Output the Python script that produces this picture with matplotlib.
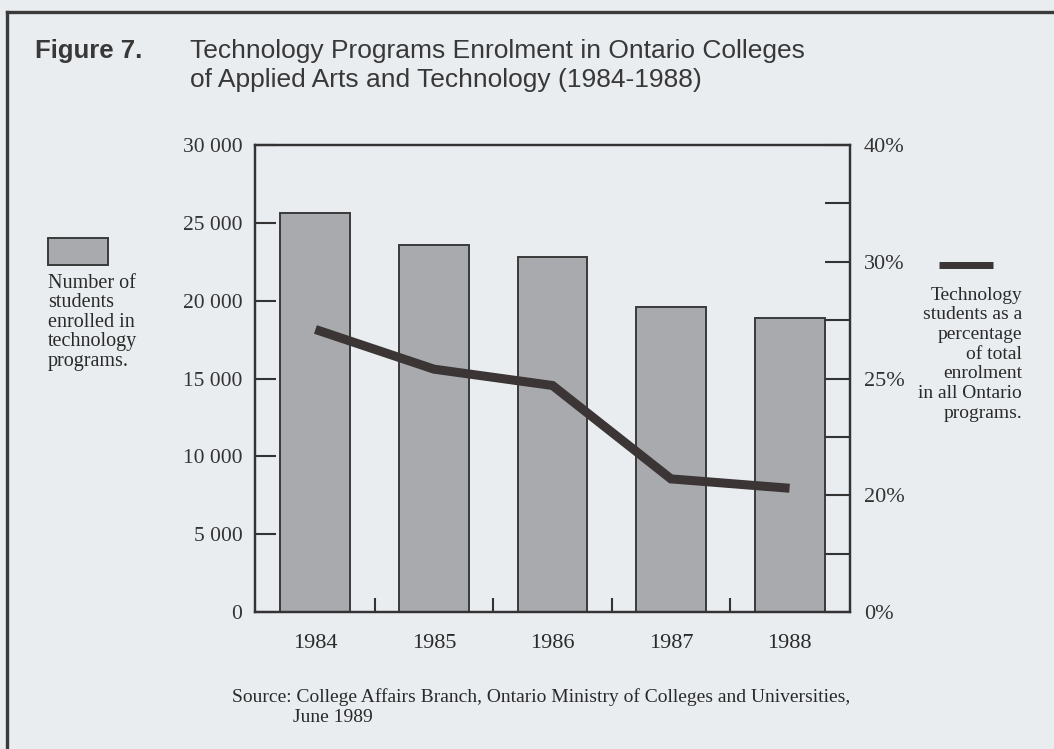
import matplotlib.pyplot as plt
import numpy as np
from matplotlib.patches import Rectangle
from matplotlib.lines import Line2D

# Data
years = ['1984', '1985', '1986', '1987', '1988']
enrolled = [25600, 23600, 22800, 19600, 18900]
pct_of_total = [27.1, 25.4, 24.7, 20.7, 20.3]

# Right axis is broken: 0, 20, 25, 30 and 40 % sit at equal spacing
pct_breaks = [0, 20, 25, 30, 40]
pos_breaks = [0, 2, 4, 6, 8]


def to_pos(v):
    return np.interp(v, pct_breaks, pos_breaks)


def to_pct(p):
    return np.interp(p, pos_breaks, pct_breaks)


paper = '#e9edf0'
ink = '#2a2a2a'
serif = 'Liberation Serif'
sans = ['Liberation Sans Narrow', 'Liberation Sans']

W, H = 1054, 749
fig = plt.figure(figsize=(W / 100, H / 100), dpi=100, facecolor=paper)


def fx(px):
    return px / W


def fy(py):
    return 1 - py / H


ax = fig.add_axes([fx(255), fy(612), fx(850) - fx(255), fy(145) - fy(612)])
ax.set_facecolor(paper)

x = np.arange(len(years))
ax.bar(x, enrolled, width=0.59, color='#a8aaad', edgecolor='#3a3a3a',
       linewidth=1.4, zorder=2)
ax.set_xlim(-0.51, 4.51)
ax.set_ylim(0, 30000)

yt = list(range(0, 30001, 5000))
ax.set_yticks(yt)
ax.set_yticklabels([f'{v:,}'.replace(',', ' ') for v in yt],
                   fontfamily=serif, fontsize=15.5, color=ink)
ax.tick_params(axis='y', direction='in', length=15, width=1.5, pad=9,
               colors='#333333')

ax.set_xticks(x)
ax.set_xticklabels(years, fontfamily=serif, fontsize=16, color=ink)
ax.tick_params(axis='x', which='major', length=0, pad=16)
ax.set_xticks(x[:-1] + 0.5, minor=True)
ax.tick_params(axis='x', which='minor', direction='in', length=10, width=1.5,
               color='#333333')

for s in ax.spines.values():
    s.set_linewidth(1.6)
    s.set_color('#333333')

# Percentage line on the broken right-hand scale
ax2 = ax.twinx()
ax2.set_yscale('function', functions=(to_pos, to_pct))
ax2.set_ylim(0, 40)
ax2.set_yticks([0, 20, 25, 30, 40])
ax2.set_yticklabels(['0%', '20%', '25%', '30%', '40%'],
                    fontfamily=serif, fontsize=16, color=ink)
ax2.set_yticks([10, 22.5, 27.5, 35], minor=True)
ax2.tick_params(axis='y', which='both', direction='in', length=18,
                width=1.5, pad=10, colors='#333333')
ax2.plot(x, pct_of_total, color='#3b3535', linewidth=6.5,
         solid_capstyle='butt', solid_joinstyle='miter', zorder=3)
for s in ax2.spines.values():
    s.set_linewidth(1.6)
    s.set_color('#333333')

# Page frame
fig.add_artist(Line2D([fx(7), fx(7)], [0, fy(12)], color='#3a3a3a', lw=2.4))
fig.add_artist(Line2D([fx(7), 1], [fy(12), fy(12)], color='#3a3a3a', lw=2.4))

# Title
fig.text(fx(35), fy(51), 'Figure 7.', fontfamily=sans, fontweight='bold',
         fontsize=18.5, color='#383838', va='center')
fig.text(fx(190), fy(51), 'Technology Programs Enrolment in Ontario Colleges',
         fontfamily=sans, fontsize=19, color='#383838', va='center')
fig.text(fx(190), fy(80), 'of Applied Arts and Technology (1984-1988)',
         fontfamily=sans, fontsize=19, color='#383838', va='center')

# Left key: bars
fig.add_artist(Rectangle((fx(48), fy(265)), fx(108) - fx(48), fy(238) - fy(265),
                         transform=fig.transFigure, facecolor='#a8aaad',
                         edgecolor='#3a3a3a', linewidth=1.4))
for i, t in enumerate(['Number of', 'students', 'enrolled in',
                       'technology', 'programs.']):
    fig.text(fx(48), fy(283 + 19.6 * i), t, fontfamily=serif, fontsize=14.5,
             color=ink, va='center', ha='left')

# Right key: line
fig.add_artist(Line2D([fx(939), fx(993)], [fy(265), fy(265)],
                      color='#3b3535', lw=5, solid_capstyle='butt'))
for i, t in enumerate(['Technology', 'students as a', 'percentage',
                       'of total', 'enrolment', 'in all Ontario',
                       'programs.']):
    fig.text(fx(1022), fy(295 + 19.7 * i), t, fontfamily=serif, fontsize=14,
             color=ink, va='center', ha='right')

# Source note
fig.text(fx(232), fy(697),
         'Source: College Affairs Branch, Ontario Ministry of Colleges and Universities,',
         fontfamily=serif, fontsize=14, color=ink, va='center')
fig.text(fx(293), fy(717), 'June 1989', fontfamily=serif, fontsize=14,
         color=ink, va='center')

fig.savefig('out.png', dpi=100, facecolor=paper)
